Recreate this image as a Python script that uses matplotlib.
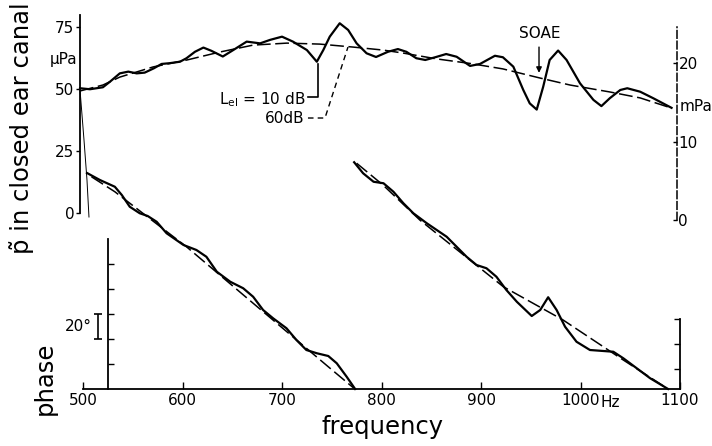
import matplotlib
matplotlib.use('Agg')
import matplotlib.pyplot as plt

plt.rcParams['font.family'] = ['DejaVu Sans']
plt.rcParams['mathtext.default'] = 'regular'

# ---------------- data ----------------
# amplitude of sound pressure in closed ear canal (µPa), L_el = 10 dB (solid)
amp10_freq = [497, 507, 520, 527, 537, 545.5, 554, 562, 571, 579,
              587, 597.5, 604, 612.5, 621, 629, 640.5, 651, 664.5, 678,
              688, 700, 711, 725, 735, 741.5, 748, 758, 766.5, 775,
              785, 794.5, 806.5, 816.5, 825, 835, 844, 854, 865, 875.5,
              889, 899, 914, 922, 932.5, 942.5, 949, 956, 962.5, 969,
              977.5, 986, 999.5, 1013, 1021, 1029.5, 1040, 1047, 1060, 1073,
              1091.5]
amp10_val = [50.3, 49.9, 50.7, 52.9, 56.3, 57.0, 56.3, 56.6, 58.3, 60.1,
             60.4, 61.0, 62.4, 65.0, 66.7, 65.4, 63.1, 65.7, 69.1, 68.4,
             69.8, 71.1, 69.1, 65.7, 61.0, 65.7, 71.1, 76.5, 73.8, 68.4,
             64.4, 62.9, 65.0, 66.1, 65.0, 62.4, 61.7, 62.8, 64.1, 63.0,
             59.3, 60.1, 63.4, 62.8, 59.0, 49.6, 44.2, 41.7, 50.9, 61.7,
             65.5, 61.7, 52.3, 45.6, 43.1, 46.3, 49.6, 50.3, 48.9, 46.3,
             42.4]
# L_el = 60 dB (dashed), plotted on the same vertical scale
amp60_freq = [497, 520, 537, 570.5, 604.5, 637.5, 671, 705, 738, 771.5,
              801.5, 821.5, 856, 889, 922, 959.5, 989.5, 1029.5, 1060, 1091.5]
amp60_val = [49.2, 51.6, 54.8, 58.9, 61.7, 64.9, 67.7, 68.5, 68.1, 66.9,
             65.7, 64.5, 62.1, 60.3, 58.1, 54.4, 51.6, 48.8, 46.4, 42.3]

# phase (degrees above the bottom line), first branch
ph10a_freq = [504, 517, 532, 539, 547, 557, 565, 574, 584, 601,
              614, 624, 634.5, 648, 661, 671, 681, 691, 704.5, 714.5,
              724.5, 735, 746.5, 755, 765, 773.5]
ph10a_val = [172.8, 167.2, 161.8, 155.2, 145.8, 140.6, 138.4, 133.8, 124.6, 115.2,
             111.2, 105.8, 93.8, 85.8, 80.6, 73.8, 63.2, 56.6, 48.6, 39.2,
             31.2, 28.6, 26.4, 20.6, 9.8, 0]
ph60a_freq = [508.5, 532, 604, 671, 746.5, 772]
ph60a_val = [169.8, 157.8, 113.8, 68.6, 17.8, 0.8]
# second branch
ph10b_freq = [772.5, 781.5, 792, 802, 812, 822, 832, 845.5, 855.5, 865.5,
              875.5, 885.5, 895.5, 905.5, 915.5, 925.5, 936, 951, 959.5, 967.5,
              976, 984.5, 996, 1009.5, 1023, 1033, 1043, 1056.5, 1070, 1088]
ph10b_val = [181.4, 172.6, 165.8, 164.6, 157.8, 148.6, 140.6, 132.6, 127.2, 121.8,
             113.8, 105.8, 99.2, 96.6, 89.8, 79.2, 69.8, 58.4, 63.2, 73.4,
             63.2, 49.8, 37.8, 31.2, 30.4, 29.8, 24.6, 16.6, 8.6, 0]
ph60b_freq = [775, 801.5, 838.5, 922.5, 982.5, 1043, 1088]
ph60b_val = [180.6, 163.2, 135.2, 81.8, 55.2, 23.2, 0]
# pen jump of the phase trace at the start
jump_freq = [497, 501, 504, 506]
jump_val = [239.2, 199.2, 167.2, 137.6]

freq_ticks = [500, 600, 700, 800, 900, 1000, 1100]
freq_labels = ['500', '600', '700', '800', '900', '1000', '1100']
amp_ticks = [0, 25, 50, 75]
mpa_ticks = [0, 10, 20]
phase_ticks_left = [20, 40, 60, 80, 100]
phase_ticks_right = [16, 36, 56]

# ---------------- layout ----------------
W, H = 712, 446
fig = plt.figure(figsize=(W / 100, H / 100), dpi=100)


def rect(x0, x1, ytop, ybot):
    return [x0 / W, (H - ybot) / H, (x1 - x0) / W, (ybot - ytop) / H]


ax_ph = fig.add_axes(rect(83, 680, 10, 389))
ax_ph2 = ax_ph.twinx()
ax_amp = fig.add_axes(rect(83, 680, 10, 213))
ax_mpa = fig.add_axes(rect(83, 680, 20, 220))

for a in (ax_ph, ax_ph2, ax_amp, ax_mpa):
    a.set_facecolor('none')
    a.set_xlim(500, 1100)
    for s in a.spines.values():
        s.set_visible(False)

ax_ph.set_ylim(0, 303.2)
ax_ph2.set_ylim(0, 303.2)
ax_amp.set_ylim(0, 81.85)
ax_mpa.set_ylim(0, 25.48)

# phase axes frame
for side in ('left', 'bottom'):
    ax_ph.spines[side].set_visible(True)
    ax_ph.spines[side].set_linewidth(1.3)
ax_ph.spines['left'].set_position(('data', 525))
ax_ph.spines['left'].set_bounds(0, 120)
ax_ph.spines['bottom'].set_position(('data', 0))
ax_ph.spines['bottom'].set_bounds(500, 1100)
ax_ph.set_yticks(phase_ticks_left)
ax_ph.tick_params(axis='y', direction='in', length=4, width=1, labelleft=False)
ax_ph.set_xticks(freq_ticks)
ax_ph.set_xticklabels(freq_labels)
ax_ph.tick_params(axis='x', direction='in', length=5, width=1, pad=3, labelsize=11)

ax_ph2.spines['right'].set_visible(True)
ax_ph2.spines['right'].set_linewidth(1.3)
ax_ph2.spines['right'].set_position(('data', 1100))
ax_ph2.spines['right'].set_bounds(0, 56)
ax_ph2.set_yticks(phase_ticks_right)
ax_ph2.tick_params(axis='y', direction='in', length=4, width=1, labelright=False)

# amplitude axes (µPa)
ax_amp.spines['left'].set_visible(True)
ax_amp.spines['left'].set_linewidth(1.3)
ax_amp.spines['left'].set_position(('data', 497))
ax_amp.spines['left'].set_bounds(0, 80)
ax_amp.set_yticks(amp_ticks)
ax_amp.tick_params(axis='y', direction='out', length=3, width=1, pad=1, labelsize=11)
ax_amp.set_xticks([])
ax_amp.text(494, 61.7, 'µPa', ha='right', va='center', fontsize=11)

# right axis (mPa), dashed
ax_mpa.spines['right'].set_visible(True)
ax_mpa.spines['right'].set_linewidth(1.1)
ax_mpa.spines['right'].set_linestyle((0, (5, 2)))
ax_mpa.spines['right'].set_position(('data', 1097))
ax_mpa.spines['right'].set_bounds(0, 24.6)
ax_mpa.yaxis.set_ticks_position('right')
ax_mpa.set_yticks(mpa_ticks)
ax_mpa.tick_params(axis='y', direction='in', length=3, width=1, pad=1, labelsize=11)
ax_mpa.set_xticks([])
ax_mpa.text(1100, 14.4, 'mPa', ha='left', va='center', fontsize=11)

# ---------------- curves ----------------
ax_amp.plot(amp10_freq, amp10_val, color='k', lw=1.6, clip_on=False,
            solid_joinstyle='round')
ax_amp.plot(amp60_freq, amp60_val, color='k', lw=1.1, ls=(0, (9, 3)), clip_on=False)

ax_ph.plot(ph10a_freq, ph10a_val, color='k', lw=1.6, clip_on=False, solid_joinstyle='round')
ax_ph.plot(ph60a_freq, ph60a_val, color='k', lw=1.1, ls=(0, (9, 3)), clip_on=False)
ax_ph.plot(ph10b_freq, ph10b_val, color='k', lw=1.6, clip_on=False, solid_joinstyle='round')
ax_ph.plot(ph60b_freq, ph60b_val, color='k', lw=1.1, ls=(0, (9, 3)), clip_on=False)
ax_ph.plot(jump_freq, jump_val, color='k', lw=0.7, clip_on=False)

# ---------------- annotations ----------------
ax_amp.text(959.3, 72.2, 'SOAE', ha='center', va='center', fontsize=11)
ax_amp.annotate('', xy=(958.3, 56.5), xytext=(958.3, 66.9),
                arrowprops=dict(arrowstyle='-|>', lw=1, color='k',
                                mutation_scale=8, shrinkA=0, shrinkB=0))
ax_amp.plot([736.2, 736.2, 726.1], [60.1, 46.8, 46.8], color='k', lw=1.2, clip_on=False)
ax_amp.text(723.1, 45.6, 'L$_{el}$ = 10 dB', ha='right', va='center', fontsize=11)
ax_amp.text(723.1, 38.3, '60dB', ha='right', va='center', fontsize=11)
ax_amp.plot([726.1, 743.2, 766.3], [38.3, 38.3, 66.9], color='k', lw=1.0,
            ls=(0, (4, 3)), clip_on=False)

ax_ph.errorbar([515.1], [50], yerr=[10], color='k', lw=1.2, capsize=3,
               capthick=1.2, clip_on=False)
ax_ph.text(509, 50, '20°', ha='right', va='center', fontsize=11)

ax_ph.annotate('Hz', xy=(1000, 0), xytext=(14.5, -10), textcoords='offset points',
               ha='left', va='center', fontsize=11)

# axis titles
fig.text(22 / W, 1 - 128 / H, 'p\u0303 in closed ear canal', rotation=90,
         ha='center', va='center', fontsize=17.5)
fig.text(45 / W, 1 - 378 / H, 'phase', rotation=90, ha='center', va='center',
         fontsize=17.5)
fig.text(383 / W, 1 - 427 / H, 'frequency', ha='center', va='center', fontsize=17.5)

fig.savefig('out.png', dpi=100)
